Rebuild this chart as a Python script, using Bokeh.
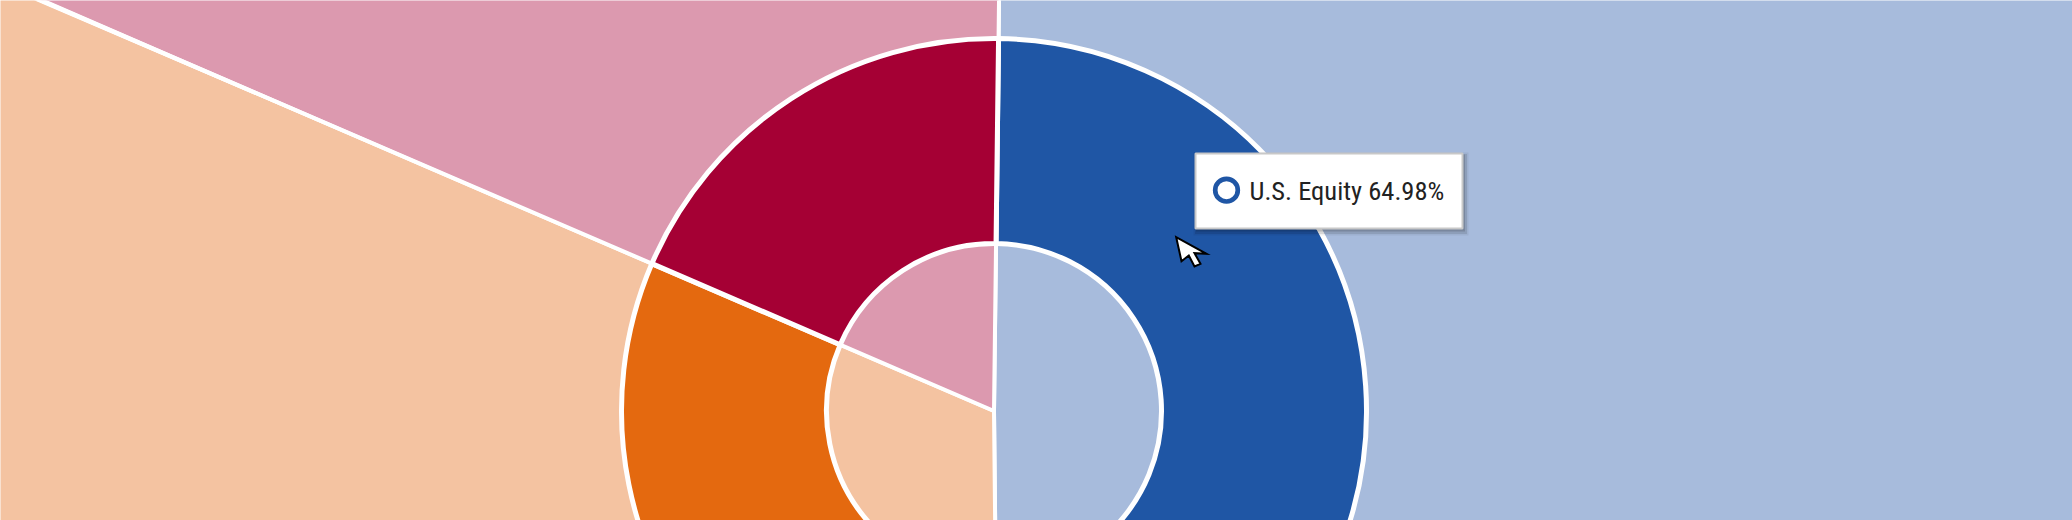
import numpy as np
from bokeh.plotting import figure
from bokeh.models import Range1d
from bokeh.core.properties import value
from bokeh.embed import file_html
from bokeh.resources import INLINE

# ---------------- data ----------------
categories = ["U.S. Equity", "Non-U.S. Equity", "Fixed Income"]
donut_values = [62.0, 19.28, 18.72]           # outer ring (%)
inner_values = [49.64, 31.64, 18.72]          # enlarged inner pie (%)
donut_colors = ["#1F56A5", "#E4690F", "#A50034"]
inner_colors = ["#A7BBDC", "#F4C3A1", "#DC99AF"]
tooltip_category = "U.S. Equity"
tooltip_value = 64.98                          # value shown in the tooltip

# ---------------- layout ----------------
W, H = 2072, 520
OFF = 0                      # page offset of the figure
START_DEG = 89.3             # first slice starts at top, clockwise
CX, CY = 993.5, (OFF + H) - 410.5
R_IN, R_OUT = 167.5, 372.5
BG_R = 1500


def ry(y):
    """page pixel y (from top) -> data y"""
    return (OFF + H) - y


def slice_angles(vals):
    vals = np.asarray(vals, dtype=float)
    cum = np.concatenate([[0.0], np.cumsum(vals)]) / vals.sum()
    starts = START_DEG - 360.0 * cum[:-1]
    ends = START_DEG - 360.0 * cum[1:]
    return np.radians(ends), np.radians(starts)


p = figure(width=W, height=H, x_range=Range1d(OFF, OFF + W), y_range=Range1d(0, H),
           output_backend="svg", toolbar_location=None, min_border=0,
           x_axis_location=None, y_axis_location=None)
p.grid.visible = False
p.outline_line_color = None
p.background_fill_color = "white"
p.border_fill_color = "white"

# enlarged background pie
b_end, b_start = slice_angles(inner_values)
p.wedge(x=CX, y=CY, radius=BG_R, start_angle=b_end, end_angle=b_start,
        fill_color=inner_colors, line_color="white", line_width=4)
# separators that widen outward
sep = np.radians(0.14)
p.wedge(x=CX, y=CY, radius=BG_R, start_angle=b_start - sep, end_angle=b_start + sep,
        fill_color="white", line_color=None)

# donut ring
d_end, d_start = slice_angles(donut_values)
p.annular_wedge(x=CX, y=CY, inner_radius=R_IN, outer_radius=R_OUT,
                start_angle=d_end, end_angle=d_start,
                fill_color=donut_colors, line_color="white", line_width=5)

# ---------------- tooltip ----------------
bx0, bx1, by0, by1 = 1194, 1463, 152, 229
bw, bh = bx1 - bx0, by1 - by0
bxc, byc = (bx0 + bx1) / 2, ry((by0 + by1) / 2)
for dx, dy, grow, a in [(2, 3, 6, 0.06), (2, 3, 3, 0.10), (1.5, 2, 0, 0.14)]:
    p.rect(x=bxc + dx, y=byc - dy, width=bw + grow, height=bh + grow,
           fill_color="black", fill_alpha=a, line_color=None)
p.rect(x=bxc, y=byc, width=bw - 2, height=bh - 2, fill_color="white",
       line_color="#C8C8C8", line_width=2)
idx = categories.index(tooltip_category)
p.circle(x=[bx0 + 32], y=[ry(189.7)], radius=11.3, fill_color="white",
         line_color=donut_colors[idx], line_width=4.7)
p.text(x=[bx0 + 55], y=[ry(190)], text=[f"{tooltip_category} {tooltip_value:.2f}%"],
       text_font=value("Roboto Condensed"), text_font_size="26.5px",
       text_color="#222222", text_baseline="middle", text_align="left")

# ---------------- mouse cursor ----------------
tip_x, tip_y = 1175.7, 236.7
cur_dx = [0, 5.3, 12.6, 18.3, 24.3, 18.3, 30.3]
cur_dy = [0, 24.0, 18.3, 29.3, 26.6, 16.0, 16.6]
p.patch(x=[tip_x + d for d in cur_dx], y=[ry(tip_y + d) for d in cur_dy],
        fill_color="white", line_color="black", line_width=2, line_join="miter")

open("out.html", "w").write(file_html(p, INLINE))
